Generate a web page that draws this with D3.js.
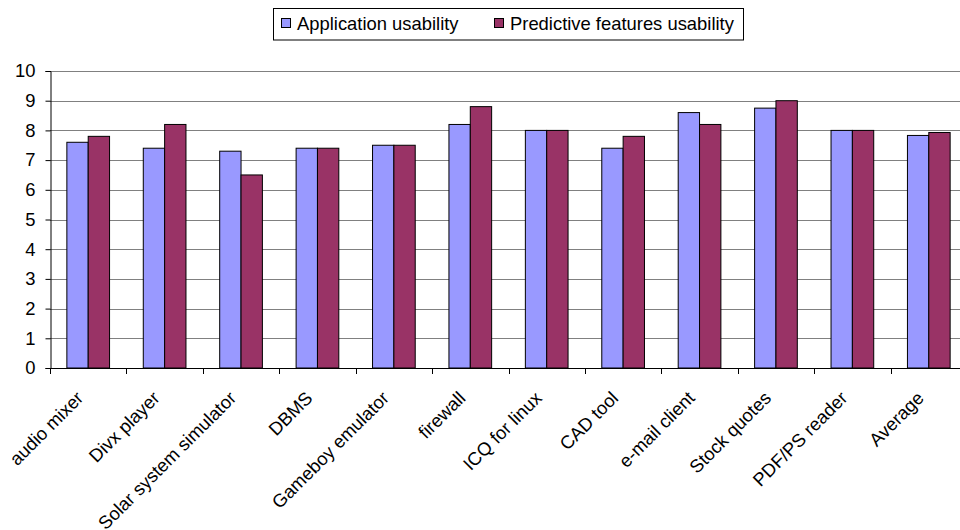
<!DOCTYPE html>
<html><head><meta charset="utf-8">
<script src="https://cdn.jsdelivr.net/npm/d3@7"></script>
<style>body{margin:0;background:#fff}svg{display:block;font-family:"Liberation Sans",Arial,sans-serif}</style>
</head><body><svg id="c" width="960" height="530"></svg>
<script>
const categories = ["audio mixer","Divx player","Solar system simulator","DBMS","Gameboy emulator","firewall","ICQ for linux","CAD tool","e-mail client","Stock quotes","PDF/PS reader","Average"];
const seriesNames = ["Application usability","Predictive features usability"];
const appUsability = [7.6,7.4,7.3,7.4,7.5,8.2,8.0,7.4,8.6,8.75,8.0,7.83];
const predUsability = [7.8,8.2,6.5,7.4,7.5,8.8,8.0,7.8,8.2,9.0,8.0,7.93];
const yTicks = [0,1,2,3,4,5,6,7,8,9,10];
const colors = ["#9999FF","#993366"];
const FS = 18.4;

const svg = d3.select("#c");
const mLeft = 50, mRight = 967, mTop = 71, mBottom = 368;
const x = d3.scaleBand().domain(categories).range([mLeft, mRight]).paddingInner(0).paddingOuter(0);
const y = d3.scaleLinear().domain([0,10]).range([mBottom, mTop]);
const inner = d3.scaleBand().domain(seriesNames).range([0, x.bandwidth()]).paddingInner(0).paddingOuter(0.79);

// gridlines
svg.append("g").selectAll("line").data(yTicks.filter(d=>d>0)).join("line")
  .attr("x1", mLeft).attr("x2", 960).attr("y1", d=>Math.round(y(d))+0.5).attr("y2", d=>Math.round(y(d))+0.5)
  .attr("stroke", "#808080").attr("stroke-width", 1.2);

// bars
const data = categories.map((c,i)=>({c, vals:[appUsability[i], predUsability[i]]}));
const g = svg.append("g").selectAll("g").data(data).join("g").attr("transform", d=>`translate(${x(d.c)},0)`);
g.selectAll("rect").data(d=>d.vals.map((v,j)=>({v, s:seriesNames[j], j}))).join("rect")
  .attr("x", d=>inner(d.s)).attr("width", inner.bandwidth())
  .attr("y", d=>y(d.v)).attr("height", d=>mBottom - y(d.v))
  .attr("fill", d=>colors[d.j]).attr("stroke", "#000").attr("stroke-width", 1);

// y axis
const yAxis = d3.axisLeft(y).tickValues(yTicks).tickSize(5).tickPadding(10).tickFormat(d3.format("d"));
const ya = svg.append("g").attr("transform", `translate(${mLeft+0.5},0)`).call(yAxis);
ya.select(".domain").attr("stroke","#000");
ya.selectAll("text").attr("font-size", FS).attr("fill","#000").attr("font-family","Liberation Sans, Arial, sans-serif");

// x axis
const xa = svg.append("g").attr("transform", `translate(0,${mBottom+0.5})`)
  .call(d3.axisBottom(x).tickSize(0).tickFormat(""));
xa.select(".domain").attr("stroke","#000").attr("d", `M${mLeft},0H960`);
xa.selectAll(".tick").remove();
// category boundary ticks
const bounds = categories.map(c=>x(c));
svg.append("g").selectAll("line").data(bounds).join("line")
  .attr("x1", d=>Math.round(d)+0.5).attr("x2", d=>Math.round(d)+0.5)
  .attr("y1", mBottom).attr("y2", mBottom+6).attr("stroke","#000");
// labels
svg.append("g").selectAll("text").data(categories).join("text")
  .attr("transform", d=>`translate(${x(d)+x.bandwidth()/2-13},${mBottom+22}) rotate(-45)`)
  .attr("text-anchor","end").attr("dy","0.71em").attr("font-size", FS).attr("fill","#000")
  .text(d=>d);

// legend
const lg = svg.append("g");
lg.append("rect").attr("x",273.5).attr("y",8.5).attr("width",470).attr("height",31.5)
  .attr("fill","#fff").attr("stroke","#000").attr("stroke-width",1);
const items = [{n:seriesNames[0], x:281, c:colors[0]},{n:seriesNames[1], x:494, c:colors[1]}];
items.forEach(it=>{
  lg.append("rect").attr("x",it.x+0.5).attr("y",18.5).attr("width",9).attr("height",9)
    .attr("fill",it.c).attr("stroke","#000");
  lg.append("text").attr("x",it.x+16).attr("y",30).attr("font-size",FS).attr("fill","#000").text(it.n);
});
</script></body></html>
